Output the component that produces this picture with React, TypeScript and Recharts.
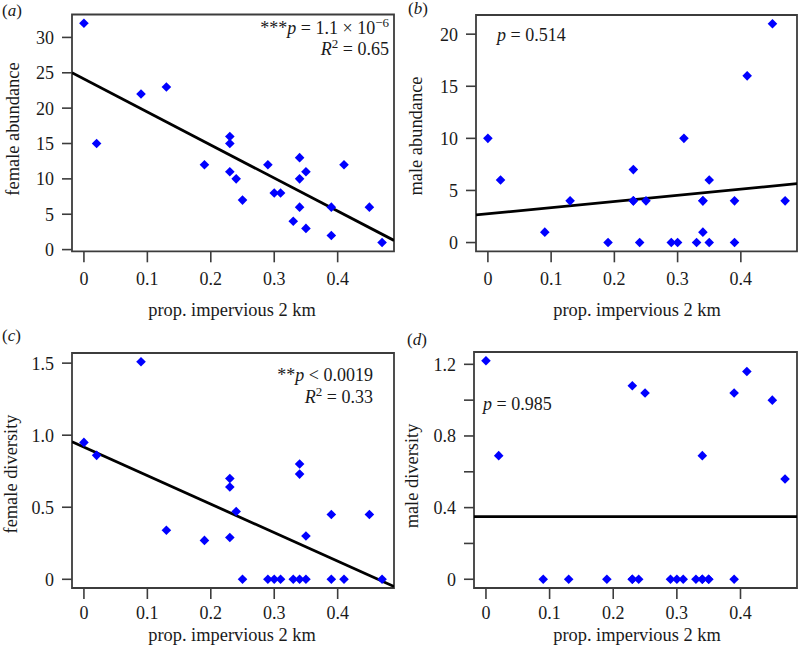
import React from 'react';
import { ScatterChart, Scatter, XAxis, YAxis, ReferenceLine, ReferenceArea } from 'recharts';

// ---------- data ----------
const siteImpervious = [0, 0.02, 0.09, 0.13, 0.19, 0.23, 0.23, 0.23, 0.24, 0.25, 0.29, 0.3, 0.31, 0.33, 0.34, 0.34, 0.34, 0.35, 0.35, 0.39, 0.39, 0.41, 0.45, 0.47];
const femaleAbundance = [32, 15, 22, 23, 12, 16, 15, 11, 10, 7, 12, 8, 8, 4, 13, 10, 6, 11, 3, 6, 2, 12, 6, 1];
const maleAbundance = [10, 6, 1, 4, 0, 7, 4, 4, 0, 4, 0, 0, 10, 0, 4, 1, 4, 6, 0, 4, 0, 16, 21, 4];
const femaleDiversity = [0.95, 0.86, 1.51, 0.34, 0.27, 0.7, 0.64, 0.29, 0.47, 0, 0, 0, 0, 0, 0.8, 0.73, 0, 0.3, 0, 0.45, 0, 0, 0.45, 0];
const maleDiversity = [1.22, 0.69, 0, 0, 0, 1.08, 0, 0, 0, 1.04, 0, 0, 0, 0, 0.69, 0, 0, 0, 0, 1.04, 0, 1.16, 1.0, 0.56];

// fitted regression lines (end points read at the plot edges)
const fitFemaleAbundance = [{ x: -0.0188, y: 25.0 }, { x: 0.4888, y: 1.3 }];
const fitMaleAbundance = [{ x: -0.0188, y: 2.65 }, { x: 0.4888, y: 5.65 }];
const fitFemaleDiversity = [{ x: -0.0188, y: 0.955 }, { x: 0.4888, y: -0.05 }];
const fitMaleDiversity = [{ x: -0.0188, y: 0.35 }, { x: 0.4888, y: 0.35 }];

// axes
const xTicks = [0, 0.1, 0.2, 0.3, 0.4];
const xTickLabels = ['0', '0.1', '0.2', '0.3', '0.4'];
const xDomain = [-0.0188, 0.4888];

const yTicksA = [0, 5, 10, 15, 20, 25, 30];
const yTickLabelsA = ['0', '5', '10', '15', '20', '25', '30'];
const yDomainA = [-0.24, 33.24];

const yTicksB = [0, 5, 10, 15, 20];
const yTickLabelsB = ['0', '5', '10', '15', '20'];
const yDomainB = [-0.84, 21.84];

const yTicksC = [0, 0.5, 1, 1.5];
const yTickLabelsC = ['0', '0.5', '1.0', '1.5'];
const yDomainC = [-0.0604, 1.5704];

const yTicksD = [0, 0.2, 0.4, 0.6, 0.8, 1.0, 1.2];
const yTickLabelsD = ['0', '', '0.4', '', '0.8', '', '1.2'];
const yDomainD = [-0.0488, 1.2688];

const xLabel = 'prop. impervious 2 km';

const FONT = '"Liberation Serif", "Times New Roman", Times, serif';
const FRAME = '#3c3c3c';
const TEXT = '#1a1a1a';

const toPoints = (ys: number[]) => siteImpervious.map((x, i) => ({ x, y: ys[i] }));

const Diamond = (props: any) => {
  const { cx, cy } = props;
  if (cx == null || cy == null) return null;
  const r = 4.8;
  return <path d={`M${cx},${cy - r}L${cx + r},${cy}L${cx},${cy + r}L${cx - r},${cy}Z`} fill="#0000ff" />;
};

type PanelProps = {
  box: [number, number, number, number];
  plot: { left: number; right: number; top: number; bottom: number };
  values: number[];
  fit: { x: number; y: number }[];
  yDomain: number[];
  yTicks: number[];
  yTickLabels: string[];
  xTickMargin: number;
};

function Panel({ box, plot, values, fit, yDomain, yTicks, yTickLabels, xTickMargin }: PanelProps) {
  const [bx, by, bw, bh] = box;
  const data = toPoints(values);
  const tickStyle = { fill: TEXT, fontSize: 18, fontFamily: FONT };
  return (
    <div style={{ position: 'absolute', left: bx, top: by, width: bw, height: bh }}>
      <ScatterChart width={bw} height={bh} margin={{ top: plot.top, right: bw - plot.right, bottom: 0, left: 0 }}>
        <XAxis
          type="number"
          dataKey="x"
          domain={xDomain}
          ticks={xTicks}
          interval={0}
          allowDataOverflow
          height={bh - plot.bottom}
          tickSize={11}
          tickMargin={xTickMargin}
          axisLine={false}
          tickLine={{ stroke: FRAME, strokeWidth: 1.6 }}
          tick={tickStyle}
          tickFormatter={(v: number) => xTickLabels[xTicks.indexOf(v)] ?? String(v)}
        />
        <YAxis
          type="number"
          dataKey="y"
          domain={yDomain}
          ticks={yTicks}
          interval={0}
          allowDataOverflow
          width={plot.left}
          tickSize={10}
          tickMargin={8}
          axisLine={false}
          tickLine={{ stroke: FRAME, strokeWidth: 1.6 }}
          tick={tickStyle}
          tickFormatter={(v: number) => {
            const i = yTicks.findIndex((t) => Math.abs(t - v) < 1e-9);
            return i >= 0 ? yTickLabels[i] : String(v);
          }}
        />
        <ReferenceArea
          x1={xDomain[0]}
          x2={xDomain[1]}
          y1={yDomain[0]}
          y2={yDomain[1]}
          fill="none"
          fillOpacity={0}
          stroke={FRAME}
          strokeWidth={1.8}
          ifOverflow="visible"
        />
        <ReferenceLine segment={fit} stroke="#000" strokeWidth={2.8} ifOverflow="hidden" />
        <Scatter data={data} shape={Diamond} isAnimationActive={false} />
      </ScatterChart>
    </div>
  );
}

function Sup({ children }: { children: React.ReactNode }) {
  return (
    <tspan dy={-7} fontSize={13}>
      {children}
    </tspan>
  );
}

export default function App() {
  return (
    <div style={{ position: 'absolute', left: 0, top: 0, width: 799, height: 648, background: '#fff' }}>
      <Panel
        box={[0, 0, 400, 324]}
        plot={{ left: 72, right: 394, top: 14.5, bottom: 251.3 }}
        values={femaleAbundance}
        fit={fitFemaleAbundance}
        yDomain={yDomainA}
        yTicks={yTicksA}
        yTickLabels={yTickLabelsA}
        xTickMargin={10}
      />
      <Panel
        box={[400, 0, 399, 324]}
        plot={{ left: 76, right: 397, top: 15, bottom: 251.3 }}
        values={maleAbundance}
        fit={fitMaleAbundance}
        yDomain={yDomainB}
        yTicks={yTicksB}
        yTickLabels={yTickLabelsB}
        xTickMargin={10}
      />
      <Panel
        box={[0, 324, 400, 324]}
        plot={{ left: 72, right: 394, top: 29, bottom: 264 }}
        values={femaleDiversity}
        fit={fitFemaleDiversity}
        yDomain={yDomainC}
        yTicks={yTicksC}
        yTickLabels={yTickLabelsC}
        xTickMargin={7}
      />
      <Panel
        box={[400, 324, 399, 324]}
        plot={{ left: 74, right: 397, top: 28, bottom: 264 }}
        values={maleDiversity}
        fit={fitMaleDiversity}
        yDomain={yDomainD}
        yTicks={yTicksD}
        yTickLabels={yTickLabelsD}
        xTickMargin={7}
      />
      <svg
        width={799}
        height={648}
        style={{ position: 'absolute', left: 0, top: 0, pointerEvents: 'none' }}
        fontFamily={FONT}
        fill={TEXT}
      >
        {/* panel letters */}
        <text x={2} y={16} fontSize={17}>
          (<tspan fontStyle="italic">a</tspan>)
        </text>
        <text x={408} y={14} fontSize={17}>
          (<tspan fontStyle="italic">b</tspan>)
        </text>
        <text x={2} y={341} fontSize={17}>
          (<tspan fontStyle="italic">c</tspan>)
        </text>
        <text x={407} y={345} fontSize={17}>
          (<tspan fontStyle="italic">d</tspan>)
        </text>

        {/* statistics */}
        <text x={389} y={33.5} fontSize={18} textAnchor="end">
          ***<tspan fontStyle="italic">p</tspan> = 1.1 × 10<Sup>−6</Sup>
        </text>
        <text x={389} y={55} fontSize={18} textAnchor="end">
          <tspan fontStyle="italic">R</tspan>
          <Sup>2</Sup>
          <tspan dy={7}> = 0.65</tspan>
        </text>
        <text x={497} y={40.7} fontSize={18}>
          <tspan fontStyle="italic">p</tspan> = 0.514
        </text>
        <text x={373} y={381.3} fontSize={18} textAnchor="end">
          **<tspan fontStyle="italic">p</tspan> &lt; 0.0019
        </text>
        <text x={373} y={403.3} fontSize={18} textAnchor="end">
          <tspan fontStyle="italic">R</tspan>
          <Sup>2</Sup>
          <tspan dy={7}> = 0.33</tspan>
        </text>
        <text x={483} y={410} fontSize={18}>
          <tspan fontStyle="italic">p</tspan> = 0.985
        </text>

        {/* y-axis titles */}
        <text x={18.5} y={129} fontSize={18.4} textAnchor="middle" transform="rotate(-90 18.5 129)">
          female abundance
        </text>
        <text x={421.5} y={136} fontSize={18.4} textAnchor="middle" transform="rotate(-90 421.5 136)">
          male abundance
        </text>
        <text x={17} y={474} fontSize={18.4} textAnchor="middle" transform="rotate(-90 17 474)">
          female diversity
        </text>
        <text x={418} y={476} fontSize={18.4} textAnchor="middle" transform="rotate(-90 418 476)">
          male diversity
        </text>

        {/* x-axis titles */}
        <text x={232} y={315.5} fontSize={18.4} textAnchor="middle">
          {xLabel}
        </text>
        <text x={637} y={315.5} fontSize={18.4} textAnchor="middle">
          {xLabel}
        </text>
        <text x={232} y={641} fontSize={18.4} textAnchor="middle">
          {xLabel}
        </text>
        <text x={637} y={641} fontSize={18.4} textAnchor="middle">
          {xLabel}
        </text>
      </svg>
    </div>
  );
}
